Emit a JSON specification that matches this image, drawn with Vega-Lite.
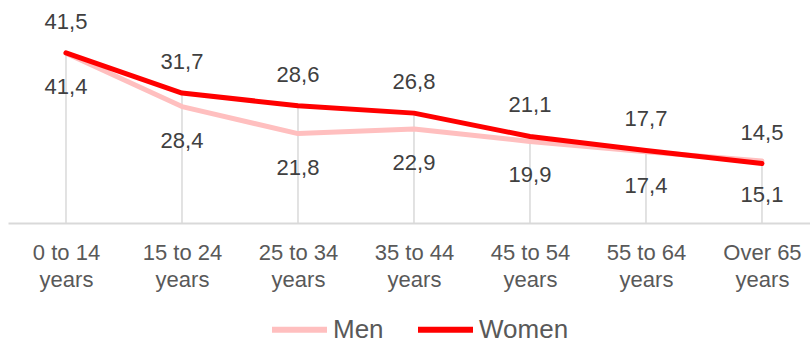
{
  "$schema": "https://vega.github.io/schema/vega-lite/v6.json",
  "width": 802,
  "height": 205,
  "autosize": {"type": "none"},
  "padding": {"left": 8, "top": 18, "right": 0, "bottom": 122},
  "background": "white",
  "config": {
    "view": {"stroke": null},
    "font": "Liberation Sans",
    "locale": {"number": {"decimal": ",", "thousands": ".", "grouping": [3], "currency": ["", " €"]}}
  },
  "data": {
    "values": [
      {"age": "0 to 14 years", "sex": "Men", "value": 41.4},
      {"age": "0 to 14 years", "sex": "Women", "value": 41.5},
      {"age": "15 to 24 years", "sex": "Men", "value": 28.4},
      {"age": "15 to 24 years", "sex": "Women", "value": 31.7},
      {"age": "25 to 34 years", "sex": "Men", "value": 21.8},
      {"age": "25 to 34 years", "sex": "Women", "value": 28.6},
      {"age": "35 to 44 years", "sex": "Men", "value": 22.9},
      {"age": "35 to 44 years", "sex": "Women", "value": 26.8},
      {"age": "45 to 54 years", "sex": "Men", "value": 19.9},
      {"age": "45 to 54 years", "sex": "Women", "value": 21.1},
      {"age": "55 to 64 years", "sex": "Men", "value": 17.4},
      {"age": "55 to 64 years", "sex": "Women", "value": 17.7},
      {"age": "Over 65 years", "sex": "Men", "value": 15.1},
      {"age": "Over 65 years", "sex": "Women", "value": 14.5}
    ]
  },
  "encoding": {
    "x": {
      "field": "age",
      "type": "nominal",
      "sort": ["0 to 14 years", "15 to 24 years", "25 to 34 years", "35 to 44 years", "45 to 54 years", "55 to 64 years", "Over 65 years"],
      "scale": {"type": "point", "padding": 0.457, "align": 0.547},
      "axis": {
        "title": null,
        "labelAngle": 0,
        "labelExpr": "[replace(datum.value, ' years', ''), 'years']",
        "labelFontSize": 22,
        "labelColor": "#595959",
        "labelLineHeight": 27,
        "labelPadding": 19,
        "ticks": false,
        "tickSize": 0,
        "domainColor": "#d9d9d9",
        "domainWidth": 2,
        "grid": false
      }
    }
  },
  "layer": [
    {
      "transform": [{"aggregate": [{"op": "max", "field": "value", "as": "top"}], "groupby": ["age"]}],
      "mark": {"type": "rule", "color": "#d9d9d9", "strokeWidth": 1.5},
      "encoding": {
        "y": {"field": "top", "type": "quantitative", "scale": {"domain": [0, 50]}, "axis": null},
        "y2": {"datum": 0}
      }
    },
    {
      "mark": {"type": "line", "strokeWidth": 5, "strokeCap": "round", "strokeJoin": "round"},
      "encoding": {
        "y": {"field": "value", "type": "quantitative", "scale": {"domain": [0, 50]}, "axis": null},
        "color": {
          "field": "sex",
          "type": "nominal",
          "scale": {"domain": ["Men", "Women"], "range": ["#FFBFBF", "#FF0000"]},
          "legend": {
            "title": null,
            "orient": "none",
            "direction": "horizontal",
            "legendX": 261,
            "legendY": 281,
            "symbolType": "stroke",
            "symbolSize": 3025,
            "symbolStrokeWidth": 6,
            "labelFontSize": 26,
            "labelColor": "#595959",
            "labelOffset": 3,
            "columnPadding": 22
          }
        }
      }
    },
    {
      "transform": [{"filter": "datum.sex === 'Women'"}],
      "mark": {"type": "text", "fontSize": 22, "color": "#404040", "baseline": "middle", "dy": -31},
      "encoding": {
        "y": {"field": "value", "type": "quantitative", "scale": {"domain": [0, 50]}, "axis": null},
        "text": {"field": "value", "type": "quantitative", "format": ".1f"}
      }
    },
    {
      "transform": [{"filter": "datum.sex === 'Men'"}],
      "mark": {"type": "text", "fontSize": 22, "color": "#404040", "baseline": "middle", "dy": 34},
      "encoding": {
        "y": {"field": "value", "type": "quantitative", "scale": {"domain": [0, 50]}, "axis": null},
        "text": {"field": "value", "type": "quantitative", "format": ".1f"}
      }
    }
  ]
}
